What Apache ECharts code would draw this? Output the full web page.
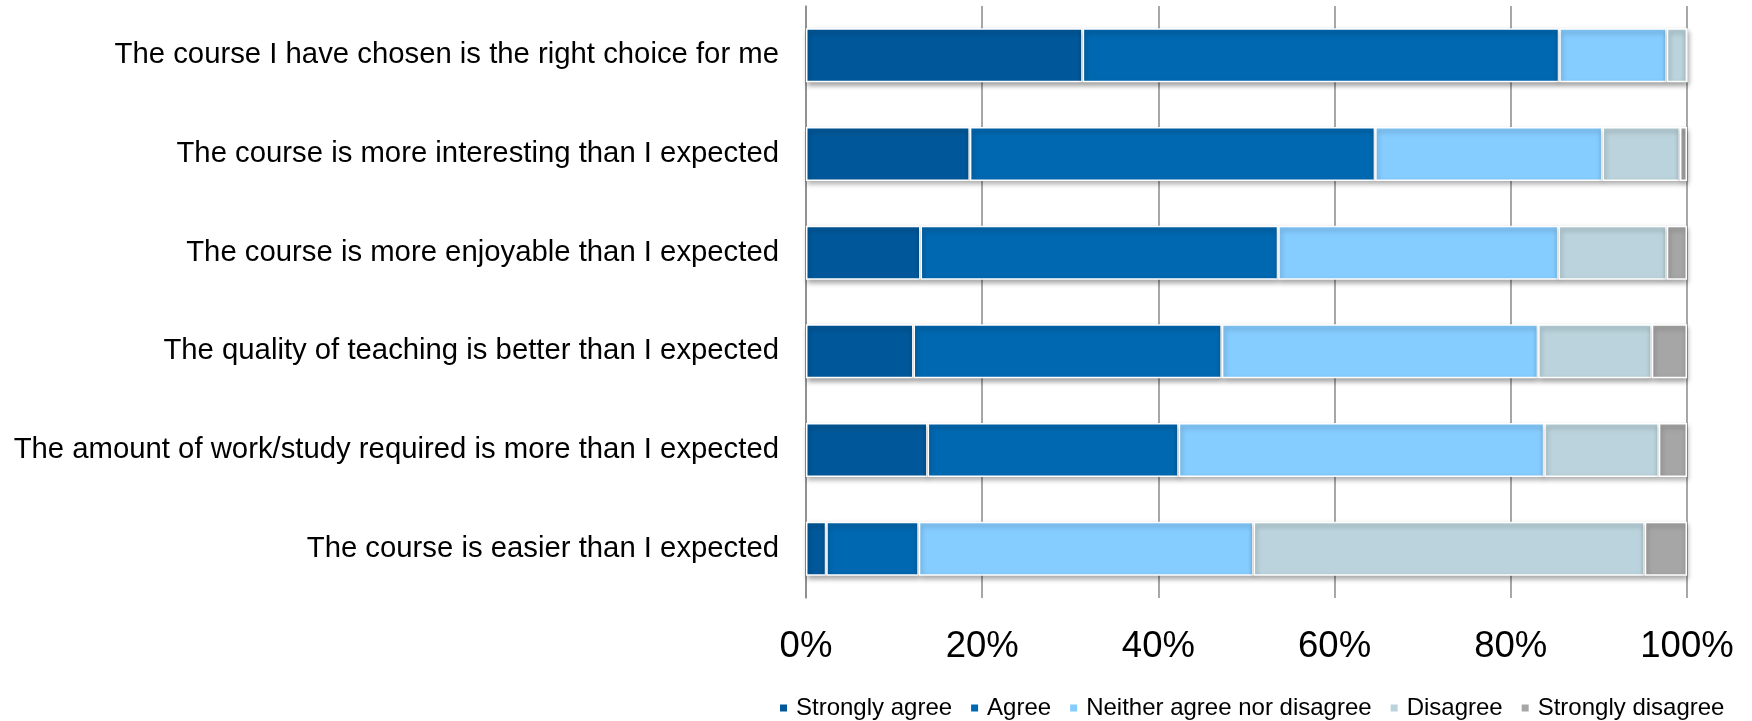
<!DOCTYPE html>
<html>
<head>
<meta charset="utf-8">
<script src="https://cdn.jsdelivr.net/npm/echarts@6/dist/echarts.min.js"></script>
<style>
html,body{margin:0;padding:0;background:#fff;}
#chart{width:1752px;height:721px;}
</style>
</head>
<body>
<div id="chart"></div>
<script>
const categories = [
  "The course I have chosen is the right choice for me",
  "The course is more interesting than I expected",
  "The course is more enjoyable than I expected",
  "The quality of teaching is better than I expected",
  "The amount of work/study required is more than I expected",
  "The course is easier than I expected"
];
const seriesNames = ["Strongly agree", "Agree", "Neither agree nor disagree", "Disagree", "Strongly disagree"];
const stronglyAgree = [31.4, 18.6, 13.0, 12.2, 13.8, 2.3];
const agree = [54.1, 46.0, 40.6, 35.0, 28.5, 10.5];
const neither = [12.2, 25.8, 31.8, 35.9, 41.5, 38.0];
const disagree = [2.3, 8.8, 12.3, 12.9, 13.0, 44.4];
const stronglyDisagree = [0, 0.8, 2.3, 4.0, 3.2, 4.8];
const tickValues = [0, 20, 40, 60, 80, 100];
const colors = ["#00589A", "#0068B0", "#85CCFF", "#BBD3DC", "#A6A6A6"];

const seriesData = [stronglyAgree, agree, neither, disagree, stronglyDisagree];

const chart = echarts.init(document.getElementById('chart'), null, {renderer: 'canvas'});
chart.setOption({
  animation: false,
  backgroundColor: '#ffffff',
  color: colors,
  textStyle: {fontFamily: '"Liberation Sans", Arial, sans-serif'},
  grid: {left: 806, right: 65, top: 6, bottom: 123, containLabel: false},
  legend: {
    data: seriesNames,
    left: 773,
    top: 691,
    icon: 'rect',
    itemWidth: 9,
    itemHeight: 9,
    itemGap: 17,
    textStyle: {fontSize: 24, color: '#000', fontFamily: '"Liberation Sans", Arial, sans-serif', padding: [0, 0, 0, 3]}
  },
  xAxis: {
    type: 'value',
    min: 0,
    max: 100,
    interval: 20,
    axisLine: {show: false},
    axisTick: {show: false},
    splitLine: {show: true, lineStyle: {color: '#8a8a8a', width: 1.5}},
    axisLabel: {
      fontSize: 36.5,
      color: '#000',
      margin: 30,
      formatter: function (v) { return tickValues.indexOf(v) >= 0 ? v + '%' : ''; }
    }
  },
  yAxis: {
    type: 'category',
    data: categories,
    inverse: true,
    axisLine: {show: true, lineStyle: {color: '#8a8a8a', width: 1.5}},
    axisTick: {show: false},
    axisLabel: {fontSize: 29.3, color: '#000', margin: 27}
  },
  series: seriesData.map(function (d, i) {
    return {
      name: seriesNames[i],
      type: 'bar',
      stack: 'total',
      data: d,
      barWidth: 54,
      itemStyle: {
        color: colors[i],
        borderColor: '#ffffff',
        borderWidth: 1.5,
        shadowColor: 'rgba(0,0,0,0.35)',
        shadowBlur: 5,
        shadowOffsetX: 1,
        shadowOffsetY: 3
      }
    };
  })
});
</script>
</body>
</html>
